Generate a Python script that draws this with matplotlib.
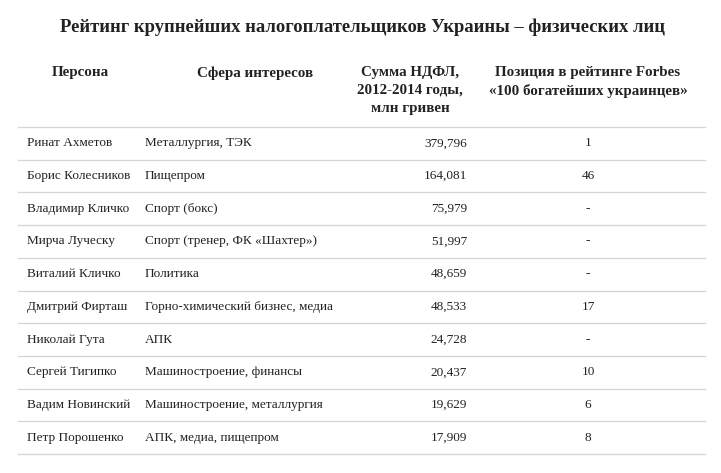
import matplotlib
matplotlib.use("Agg")
import matplotlib.pyplot as plt
from matplotlib.lines import Line2D

title = "Рейтинг крупнейших налогоплательщиков Украины – физических лиц"
headers = ["Персона", "Сфера интересов", "Сумма НДФЛ,\n2012-2014 годы,\nмлн гривен", "Позиция в рейтинге Forbes\n«100 богатейших украинцев»"]
persons = ["Ринат Ахметов", "Борис Колесников", "Владимир Кличко", "Мирча Луческу", "Виталий Кличко",
           "Дмитрий Фирташ", "Николай Гута", "Сергей Тигипко", "Вадим Новинский", "Петр Порошенко"]
spheres = ["Металлургия, ТЭК", "Пищепром", "Спорт (бокс)", "Спорт (тренер, ФК «Шахтер»)", "Политика",
           "Горно-химический бизнес, медиа", "АПК", "Машиностроение, финансы", "Машиностроение, металлургия",
           "АПК, медиа, пищепром"]
sums = ["379,796", "164,081", "75,979", "51,997", "48,659", "48,533", "24,728", "20,437", "19,629", "17,909"]
forbes = ["1", "46", "-", "-", "-", "17", "-", "10", "6", "8"]

W, H = 721, 473
fig = plt.figure(figsize=(W/100, H/100), dpi=100)
fig.patch.set_facecolor("white")
font = "Liberation Serif"
def Y(y): return 1 - y/H
def X(x): return x/W

fig.text(X(362), Y(27), title, ha="center", va="center", fontsize=13.4, fontweight="bold", family=font, color="#222")
hx = [(80, "center"), (255, "center"), (410, "center"), (588, "center")]
for (x, a), h in zip(hx, headers):
    fig.text(X(x), Y(66), h, ha=a, va="top", fontsize=10.8, fontweight="bold", family=font, color="#222", linespacing=1.5)

line_ys = [127] + [127 + 32.7*(i+1) for i in range(10)]
for ly in line_ys:
    fig.add_artist(Line2D([X(18), X(705)], [Y(ly), Y(ly)], color="#d5d5d5", lw=0.9))

for i in range(10):
    cy = (line_ys[i] + line_ys[i+1]) / 2
    kw = dict(va="center", fontsize=9.5, family=font, color="#222")
    fig.text(X(27), Y(cy), persons[i], ha="left", **kw)
    fig.text(X(145), Y(cy), spheres[i], ha="left", **kw)
    fig.text(X(467), Y(cy), sums[i], ha="right", **kw)
    fig.text(X(588), Y(cy), forbes[i], ha="center", **kw)

fig.savefig("out.png", dpi=100)
